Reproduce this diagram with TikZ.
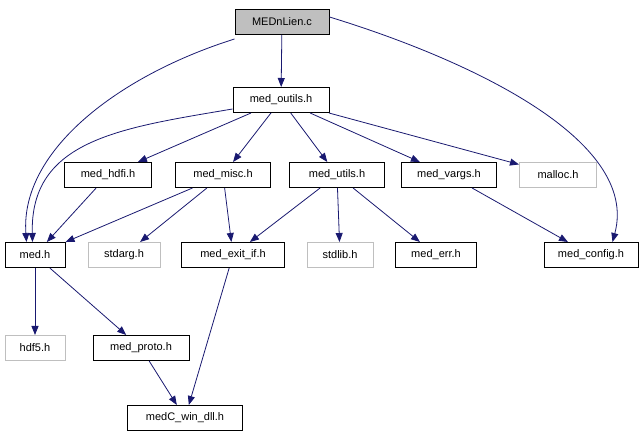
\documentclass[tikz,border=0pt]{standalone}
\usepackage{fontspec}
\setmainfont{Liberation Sans}
\usetikzlibrary{arrows.meta}
\definecolor{edgeblue}{HTML}{191970}
\definecolor{greyborder}{HTML}{BFBFBF}
\tikzset{
  box/.style={draw=black, line width=1pt, minimum height=25pt, inner sep=0pt, font=\fontsize{11}{13}\selectfont, anchor=center},
  rootbox/.style={box, fill=greyborder},
  greybox/.style={box, draw=greyborder},
  link/.style={draw=edgeblue, line width=0.8pt, -{Triangle[length=9pt,width=7pt]}},
}
\begin{document}
\begin{tikzpicture}[x=1pt,y=-1pt]
\useasboundingbox (0,0) rectangle (643,443);
\node[rootbox, minimum width=94pt] (root) at (282,22) {MEDnLien.c};
\node[box, minimum width=96pt] (outils) at (281,100) {med\_outils.h};
\node[box, minimum width=87pt] (hdfi) at (108,175) {med\_hdfi.h};
\node[box, minimum width=95pt] (misc) at (223,175) {med\_misc.h};
\node[box, minimum width=95pt] (utils) at (337,175) {med\_utils.h};
\node[box, minimum width=95pt] (vargs) at (449,175) {med\_vargs.h};
\node[greybox, minimum width=77pt] (malloc) at (558,175) {malloc.h};
\node[box, minimum width=60pt] (med) at (35,255) {med.h};
\node[greybox, minimum width=72pt] (stdarg) at (124,255) {stdarg.h};
\node[box, minimum width=103pt] (exitif) at (233,255) {med\_exit\_if.h};
\node[greybox, minimum width=66pt] (stdlib) at (340,255) {stdlib.h};
\node[box, minimum width=81pt] (err) at (436,255) {med\_err.h};
\node[box, minimum width=94pt] (config) at (591,255) {med\_config.h};
\node[greybox, minimum width=60pt] (hdf) at (35,348) {hdf5.h};
\node[box, minimum width=96pt] (proto) at (141,348) {med\_proto.h};
\node[box, minimum width=115pt] (win) at (185,418) {medC\_win\_dll.h};

\draw[link] (root) -- (outils);
\draw[link] ([yshift=-4pt]root.south west) .. controls (120,75) and (20,150) .. ([xshift=22pt]med.north west);
\draw[link] ([yshift=4pt]outils.south west) .. controls (120,128) and (30,140) .. ([xshift=28pt]med.north west);
\draw[link] ([yshift=-8pt]root.north east) .. controls (470,60) and (640,140) .. ([xshift=-26pt]config.north east);
\draw[link] (outils) -- (hdfi);
\draw[link] (outils) -- (misc);
\draw[link] (outils) -- (utils);
\draw[link] (outils) -- (vargs);
\draw[link] (outils) -- (malloc);
\draw[link] (hdfi) -- (med);
\draw[link] (misc) -- (med);
\draw[link] (misc) -- (stdarg);
\draw[link] (misc) -- (exitif);
\draw[link] (utils) -- (exitif);
\draw[link] (utils) -- (stdlib);
\draw[link] (utils) -- (err);
\draw[link] (vargs) -- (config);
\draw[link] (med) -- (hdf);
\draw[link] (med) -- (proto);
\draw[link] (proto) -- (win);
\draw[link] (exitif) -- (win);
\end{tikzpicture}
\end{document}
